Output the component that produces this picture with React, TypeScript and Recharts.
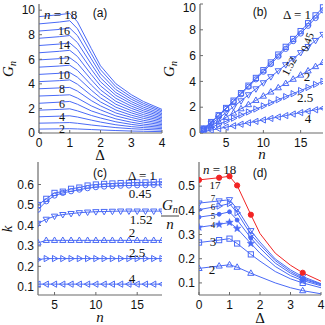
import React from 'react';
import { ComposedChart, Line, XAxis, YAxis } from 'recharts';

const BLUE = '#4a6af6';
const RED = '#f22424';
const FRAME = '#6b6b6b';
const SANS = '"Liberation Sans", Arial, sans-serif';
const SERIF = '"Liberation Serif", "DejaVu Serif", serif';

// ---- panel (a): G_n vs Delta, n = 2..18
const deltaA = [0, 0.66, 1, 1.25, 1.7, 2, 2.5, 3, 3.4, 4];
const nA = [2, 3, 4, 5, 6, 7, 8, 9, 10, 11, 12, 13, 14, 15, 16, 17, 18];
const gA: number[][] = [
  [0.32, 0.34, 0.35, 0.33, 0.28, 0.25, 0.2, 0.16, 0.14, 0.11],
  [0.8, 0.83, 0.85, 0.79, 0.65, 0.57, 0.44, 0.35, 0.3, 0.23],
  [1.32, 1.37, 1.4, 1.3, 1.05, 0.89, 0.67, 0.52, 0.44, 0.35],
  [1.86, 1.92, 1.97, 1.8, 1.43, 1.22, 0.91, 0.7, 0.58, 0.46],
  [2.42, 2.51, 2.57, 2.34, 1.8, 1.55, 1.15, 0.88, 0.72, 0.57],
  [3.01, 3.07, 3.11, 2.84, 2.21, 1.88, 1.39, 1.08, 0.88, 0.68],
  [3.6, 3.67, 3.71, 3.41, 2.64, 2.21, 1.63, 1.27, 1.03, 0.79],
  [4.18, 4.26, 4.32, 3.97, 3.06, 2.53, 1.87, 1.45, 1.19, 0.9],
  [4.77, 4.86, 4.92, 4.54, 3.49, 2.86, 2.1, 1.64, 1.34, 1.02],
  [5.36, 5.45, 5.52, 5.1, 3.91, 3.19, 2.34, 1.82, 1.49, 1.13],
  [5.95, 6.05, 6.13, 5.67, 4.34, 3.51, 2.58, 2.01, 1.65, 1.24],
  [6.53, 6.65, 6.73, 6.23, 4.76, 3.84, 2.82, 2.19, 1.8, 1.36],
  [7.12, 7.24, 7.33, 6.8, 5.19, 4.17, 3.06, 2.38, 1.95, 1.47],
  [7.71, 7.84, 7.93, 7.36, 5.61, 4.49, 3.29, 2.56, 2.1, 1.58],
  [8.3, 8.43, 8.54, 7.93, 6.04, 4.82, 3.53, 2.75, 2.26, 1.7],
  [8.88, 9.03, 9.14, 8.49, 6.46, 5.15, 3.77, 2.93, 2.41, 1.81],
  [9.47, 9.63, 9.74, 9.05, 6.88, 5.47, 4.01, 3.12, 2.56, 1.92],
];

// ---- panel (b): G_n vs n for several Delta
const nB = [2, 3, 4, 5, 6, 7, 8, 9, 10, 11, 12, 13, 14, 15, 16, 17, 18];
const gD1 = [0.35, 0.85, 1.38, 1.94, 2.51, 3.09, 3.67, 4.27, 4.87, 5.47, 6.08, 6.68, 7.29, 7.9, 8.51, 9.12, 9.74];
const gD045 = [0.33, 0.81, 1.33, 1.87, 2.43, 3.0, 3.58, 4.16, 4.75, 5.34, 5.93, 6.52, 7.12, 7.71, 8.31, 8.91, 9.51];
const gD152 = [0.3, 0.71, 1.14, 1.58, 2.04, 2.49, 2.96, 3.42, 3.89, 4.36, 4.82, 5.29, 5.76, 6.23, 6.7, 7.17, 7.64];
const gD2 = [0.25, 0.57, 0.89, 1.22, 1.55, 1.88, 2.2, 2.53, 2.86, 3.18, 3.51, 3.84, 4.17, 4.49, 4.82, 5.15, 5.47];
const gD25 = [0.2, 0.44, 0.67, 0.91, 1.15, 1.39, 1.63, 1.86, 2.1, 2.34, 2.58, 2.82, 3.05, 3.29, 3.53, 3.77, 4.01];
const gD4 = [0.11, 0.22, 0.34, 0.45, 0.56, 0.68, 0.79, 0.9, 1.01, 1.13, 1.24, 1.35, 1.47, 1.58, 1.69, 1.8, 1.92];

// ---- panel (c): k vs n
const nC = [3, 4, 5, 6, 7, 8, 9, 10, 11, 12, 13, 14, 15, 16, 17, 18];
const kD1 = [0.5, 0.53, 0.559, 0.565, 0.579, 0.585, 0.595, 0.6, 0.603, 0.605, 0.607, 0.608, 0.61, 0.61, 0.612, 0.614];
const kD045 = [0.477, 0.518, 0.546, 0.559, 0.567, 0.575, 0.582, 0.587, 0.59, 0.592, 0.594, 0.595, 0.596, 0.597, 0.598, 0.598];
const kD152 = [0.41, 0.43, 0.445, 0.453, 0.458, 0.462, 0.465, 0.467, 0.468, 0.469, 0.47, 0.47, 0.47, 0.47, 0.47, 0.47];
const kD2 = [0.315, 0.327, 0.327, 0.327, 0.327, 0.327, 0.327, 0.327, 0.327, 0.327, 0.327, 0.327, 0.327, 0.327, 0.327, 0.327];
const kD25 = [0.233, 0.238, 0.238, 0.238, 0.238, 0.238, 0.238, 0.238, 0.238, 0.238, 0.238, 0.238, 0.238, 0.238, 0.238, 0.238];
const kD4 = [0.113, 0.113, 0.113, 0.113, 0.113, 0.113, 0.113, 0.113, 0.113, 0.113, 0.113, 0.113, 0.113, 0.113, 0.113, 0.113];

// ---- panel (d): G_n / n vs Delta
const deltaD = [0, 0.66, 1, 1.25, 1.7, 2, 2.5, 3, 3.4, 4];
const markD = [true, true, true, true, true, false, false, false, true, false];
const dn2 = [0.16, 0.17, 0.175, 0.165, 0.14, 0.125, 0.1, 0.08, 0.068, 0.055];
const dn3 = [0.267, 0.277, 0.283, 0.263, 0.218, 0.19, 0.147, 0.117, 0.1, 0.08];
const dn4 = [0.33, 0.342, 0.35, 0.325, 0.263, 0.223, 0.168, 0.13, 0.11, 0.088];
const dn5 = [0.372, 0.384, 0.394, 0.36, 0.286, 0.244, 0.182, 0.14, 0.116, 0.092];
const dn6 = [0.403, 0.418, 0.428, 0.39, 0.3, 0.258, 0.192, 0.147, 0.12, 0.095];
const dn7 = [0.43, 0.439, 0.444, 0.406, 0.316, 0.269, 0.199, 0.154, 0.126, 0.097];
const dn18 = [0.526, 0.535, 0.541, 0.503, 0.382, 0.304, 0.223, 0.173, 0.142, 0.107];

type Shape = 'square' | 'circle' | 'dot' | 'up' | 'down' | 'right' | 'left' | 'star' | 'bigdot';

function Marker({ cx, cy, shape, color, s = 2.6 }: { cx?: number; cy?: number; shape: Shape; color: string; s?: number }) {
  if (cx == null || cy == null) return null;
  const o = { stroke: color, strokeWidth: 1, fill: 'none' };
  switch (shape) {
    case 'square':
      return <rect x={cx - s} y={cy - s} width={2 * s} height={2 * s} {...o} />;
    case 'circle':
      return <circle cx={cx} cy={cy} r={s} {...o} />;
    case 'dot':
      return <circle cx={cx} cy={cy} r={s * 0.75} fill={color} stroke={color} />;
    case 'bigdot':
      return <circle cx={cx} cy={cy} r={s} fill={color} stroke={color} />;
    case 'up':
      return <polygon points={`${cx},${cy - s * 1.3} ${cx - s * 1.2},${cy + s * 0.8} ${cx + s * 1.2},${cy + s * 0.8}`} {...o} />;
    case 'down':
      return <polygon points={`${cx},${cy + s * 1.3} ${cx - s * 1.2},${cy - s * 0.8} ${cx + s * 1.2},${cy - s * 0.8}`} {...o} />;
    case 'right':
      return <polygon points={`${cx + s * 1.3},${cy} ${cx - s * 0.8},${cy - s * 1.2} ${cx - s * 0.8},${cy + s * 1.2}`} {...o} />;
    case 'left':
      return <polygon points={`${cx - s * 1.3},${cy} ${cx + s * 0.8},${cy - s * 1.2} ${cx + s * 0.8},${cy + s * 1.2}`} {...o} />;
    case 'star': {
      const pts: string[] = [];
      for (let i = 0; i < 10; i++) {
        const r = i % 2 === 0 ? s * 1.5 : s * 0.65;
        const a = -Math.PI / 2 + (i * Math.PI) / 5;
        pts.push(`${cx + r * Math.cos(a)},${cy + r * Math.sin(a)}`);
      }
      return <polygon points={pts.join(' ')} fill={color} stroke={color} strokeWidth={0.5} />;
    }
  }
  return null;
}

type Rect = { x1: number; x2: number; y1: number; y2: number };
const W = 325;
const YW = 30;
const XH = 20;

const tickStyle = { fontSize: 12, fill: '#111', fontFamily: SANS };

function Panel({ rect, data, xDomain, xTicks, yDomain, yTicks, children }: {
  rect: Rect; data: any[]; xDomain: number[]; xTicks: number[]; yDomain: number[]; yTicks: number[]; children: React.ReactNode;
}) {
  const margin = { top: rect.y1, right: W - rect.x2, bottom: W - rect.y2 - XH, left: rect.x1 - YW };
  const blank = () => '';
  return (
    <div style={{ position: 'absolute', left: 0, top: 0 }}>
      <ComposedChart width={W} height={W} data={data} margin={margin}>
        <XAxis xAxisId="b" type="number" dataKey="x" domain={xDomain} ticks={xTicks} allowDataOverflow
          height={XH} tickSize={-3} tickMargin={8} tick={tickStyle}
          axisLine={{ stroke: FRAME, strokeWidth: 1.2 }} tickLine={{ stroke: FRAME }} />
        <XAxis xAxisId="t" orientation="top" type="number" dataKey="x" domain={xDomain} ticks={xTicks} allowDataOverflow
          height={0} tickSize={-3} tickFormatter={blank}
          axisLine={{ stroke: FRAME, strokeWidth: 1.2 }} tickLine={{ stroke: FRAME }} />
        <YAxis yAxisId="l" type="number" domain={yDomain} ticks={yTicks} allowDataOverflow
          width={YW} tickSize={-3} tickMargin={7} tick={tickStyle}
          axisLine={{ stroke: FRAME, strokeWidth: 1.2 }} tickLine={{ stroke: FRAME }} />
        <YAxis yAxisId="r" orientation="right" type="number" domain={yDomain} ticks={yTicks} allowDataOverflow
          width={0} tickSize={-3} tickFormatter={blank}
          axisLine={{ stroke: FRAME, strokeWidth: 1.2 }} tickLine={{ stroke: FRAME }} />
        {children}
      </ComposedChart>
    </div>
  );
}

const rowsA = deltaA.map((d, i) => {
  const r: Record<string, number> = { x: d };
  nA.forEach((n, j) => { r[`n${n}`] = gA[j][i]; });
  return r;
});

const seriesB = [
  { key: 'd4', vals: gD4, shape: 'left' as Shape },
  { key: 'd25', vals: gD25, shape: 'right' as Shape },
  { key: 'd2', vals: gD2, shape: 'up' as Shape },
  { key: 'd152', vals: gD152, shape: 'down' as Shape },
  { key: 'd045', vals: gD045, shape: 'circle' as Shape },
  { key: 'd1', vals: gD1, shape: 'square' as Shape },
];
const rowsB = nB.map((n, i) => {
  const r: Record<string, number> = { x: n };
  seriesB.forEach((s) => { r[s.key] = s.vals[i]; });
  return r;
});

const seriesC = [
  { key: 'd4', vals: kD4, shape: 'left' as Shape },
  { key: 'd25', vals: kD25, shape: 'right' as Shape },
  { key: 'd2', vals: kD2, shape: 'up' as Shape },
  { key: 'd152', vals: kD152, shape: 'down' as Shape },
  { key: 'd045', vals: kD045, shape: 'circle' as Shape },
  { key: 'd1', vals: kD1, shape: 'square' as Shape },
];
const rowsC = nC.map((n, i) => {
  const r: Record<string, number> = { x: n };
  seriesC.forEach((s) => { r[s.key] = s.vals[i]; });
  return r;
});

const seriesD = [
  { key: 'n2', vals: dn2, shape: 'up' as Shape, color: BLUE },
  { key: 'n3', vals: dn3, shape: 'square' as Shape, color: BLUE },
  { key: 'n4', vals: dn4, shape: 'star' as Shape, color: BLUE },
  { key: 'n5', vals: dn5, shape: 'dot' as Shape, color: BLUE },
  { key: 'n6', vals: dn6, shape: 'right' as Shape, color: BLUE },
  { key: 'n7', vals: dn7, shape: 'down' as Shape, color: BLUE },
  { key: 'n18', vals: dn18, shape: 'bigdot' as Shape, color: RED },
];
const rowsD = deltaD.map((d, i) => {
  const r: Record<string, any> = { x: d, mark: markD[i] };
  seriesD.forEach((s) => { r[s.key] = s.vals[i]; });
  return r;
});

function markerDot(id: string, shape: Shape, color: string, onlyMarked = false) {
  return (p: any) => {
    const k = `${id}-${p.index}`;
    if (onlyMarked && !p.payload?.mark) return <g key={k} />;
    return <Marker key={k} cx={p.cx} cy={p.cy} shape={shape} color={color} />;
  };
}

const lbl = { fontFamily: SERIF, fontSize: 13, fill: '#111' };
const lblA = { fontFamily: SERIF, fontSize: 12, fill: '#111' };
const small = { fontFamily: SERIF, fontSize: 11, fill: '#111' };
const tiny = { fontFamily: SERIF, fontSize: 9, fill: '#111' };
const axl = { fontFamily: SERIF, fontSize: 15, fill: '#111' };
const pan = { fontFamily: SANS, fontSize: 12, fill: '#111' };

function Overlay() {
  return (
    <svg width={W} height={W} style={{ position: 'absolute', left: 0, top: 0, pointerEvents: 'none' }}>
      {/* axis titles */}
      <text {...axl} fontStyle="italic" transform="translate(13,69) rotate(-90)" textAnchor="middle">G<tspan fontSize={10} dy={3}>n</tspan></text>
      <text {...axl} x={100} y={160} textAnchor="middle">Δ</text>
      <text {...axl} fontStyle="italic" transform="translate(174,69) rotate(-90)" textAnchor="middle">G<tspan fontSize={10} dy={3}>n</tspan></text>
      <text {...axl} fontStyle="italic" x={262} y={159} textAnchor="middle">n</text>
      <text {...axl} fontStyle="italic" transform="translate(12,229) rotate(-90)" textAnchor="middle">k</text>
      <text {...axl} fontStyle="italic" x={100} y={322} textAnchor="middle">n</text>
      <text {...axl} fontStyle="italic" x={162} y={210}>G<tspan fontSize={10} dy={3}>n</tspan></text>
      <line x1={161} x2={179} y1={216} y2={216} stroke="#111" strokeWidth={0.8} />
      <text {...axl} fontStyle="italic" x={170} y={229} textAnchor="middle">n</text>
      <text {...axl} x={260} y={323} textAnchor="middle">Δ</text>
      {/* panel tags */}
      <text {...pan} x={100} y={17} textAnchor="middle">(a)</text>
      <text {...pan} x={260} y={16} textAnchor="middle">(b)</text>
      <text {...pan} x={100} y={177} textAnchor="middle">(c)</text>
      <text {...pan} x={260} y={177} textAnchor="middle">(d)</text>
      {/* (a) curve labels */}
      <text {...lbl} x={44} y={19}><tspan fontStyle="italic">n</tspan> = 18</text>
      <text {...lblA} x={64} y={35} textAnchor="middle">16</text>
      <text {...lblA} x={64} y={49} textAnchor="middle">14</text>
      <text {...lblA} x={64} y={64} textAnchor="middle">12</text>
      <text {...lblA} x={64} y={79} textAnchor="middle">10</text>
      <text {...lblA} x={62} y={93} textAnchor="middle">8</text>
      <text {...lblA} x={62} y={108} textAnchor="middle">6</text>
      <text {...lblA} x={62} y={121} textAnchor="middle">4</text>
      <text {...lblA} x={62} y={133} textAnchor="middle">2</text>
      {/* (b) curve labels */}
      <text {...lbl} x={297} y={19} textAnchor="middle">Δ = 1</text>
      <text {...small} transform="translate(307,42) rotate(-70)" textAnchor="middle" dy={4}>0.45</text>
      <text {...small} transform="translate(289,66) rotate(-62)" textAnchor="middle" dy={4}>1.52</text>
      <text {...lbl} x={307} y={81} textAnchor="middle">2</text>
      <text {...lbl} x={305} y={102} textAnchor="middle">2.5</text>
      <text {...lbl} x={308} y={123} textAnchor="middle">4</text>
      {/* (c) curve labels */}
      <text {...lbl} x={142} y={180} textAnchor="middle">Δ = 1</text>
      <text {...lbl} x={140} y={198} textAnchor="middle">0.45</text>
      <text {...lbl} x={141} y={224} textAnchor="middle">1.52</text>
      <text {...lbl} x={132} y={237} textAnchor="middle">2</text>
      <text {...lbl} x={137} y={257} textAnchor="middle">2.5</text>
      <text {...lbl} x={132} y={283} textAnchor="middle">4</text>
      {/* (d) curve labels */}
      <text {...lbl} x={203} y={174}><tspan fontStyle="italic">n</tspan> = 18</text>
      <text {...small} x={215} y={189} textAnchor="middle">17</text>
      <text {...tiny} x={213} y={201} textAnchor="middle">7</text>
      <text {...tiny} x={213} y={210} textAnchor="middle">6</text>
      <text {...tiny} x={213} y={219} textAnchor="middle">5</text>
      <text {...tiny} x={213} y={228} textAnchor="middle">4</text>
      <text {...lbl} x={213} y={246} textAnchor="middle">3</text>
      <text {...lbl} x={212} y={274} textAnchor="middle">2</text>
    </svg>
  );
}

export default function App() {
  return (
    <div style={{ position: 'absolute', left: 0, top: 0, width: W, height: W, background: '#fff' }}>
      <Panel rect={{ x1: 39, x2: 162, y1: 4, y2: 133 }} data={rowsA} xDomain={[0, 4]} xTicks={[0, 1, 2, 3, 4]}
        yDomain={[0, 10.5]} yTicks={[0, 2, 4, 6, 8, 10]}>
        {nA.map((n) => (
          <Line key={n} xAxisId="b" yAxisId="l" type="linear" dataKey={`n${n}`} stroke={BLUE} strokeWidth={1}
            dot={false} isAnimationActive={false} />
        ))}
      </Panel>
      <Panel rect={{ x1: 200, x2: 323, y1: 4, y2: 133 }} data={rowsB} xDomain={[1.5, 18]} xTicks={[5, 10, 15]}
        yDomain={[0, 10]} yTicks={[0, 2, 4, 6, 8, 10]}>
        {seriesB.map((s) => (
          <Line key={s.key} xAxisId="b" yAxisId="l" type="linear" dataKey={s.key} stroke={BLUE} strokeWidth={1}
            dot={markerDot(`b${s.key}`, s.shape, BLUE)} isAnimationActive={false} />
        ))}
      </Panel>
      <Panel rect={{ x1: 38, x2: 162, y1: 162, y2: 295 }} data={rowsC} xDomain={[3, 18]} xTicks={[5, 10, 15]}
        yDomain={[0.06, 0.71]} yTicks={[0.1, 0.2, 0.3, 0.4, 0.5, 0.6]}>
        {seriesC.map((s) => (
          <Line key={s.key} xAxisId="b" yAxisId="l" type="linear" dataKey={s.key} stroke={BLUE} strokeWidth={1}
            dot={markerDot(`c${s.key}`, s.shape, BLUE)} isAnimationActive={false} />
        ))}
      </Panel>
      <Panel rect={{ x1: 199, x2: 321, y1: 162, y2: 295 }} data={rowsD} xDomain={[0, 4]} xTicks={[0, 1, 2, 3, 4]}
        yDomain={[0.05, 0.6]} yTicks={[0.1, 0.2, 0.3, 0.4, 0.5]}>
        {seriesD.map((s) => (
          <Line key={s.key} xAxisId="b" yAxisId="l" type="linear" dataKey={s.key} stroke={s.color} strokeWidth={1}
            dot={markerDot(`d${s.key}`, s.shape, s.color, true)} isAnimationActive={false} />
        ))}
      </Panel>
      <Overlay />
    </div>
  );
}
